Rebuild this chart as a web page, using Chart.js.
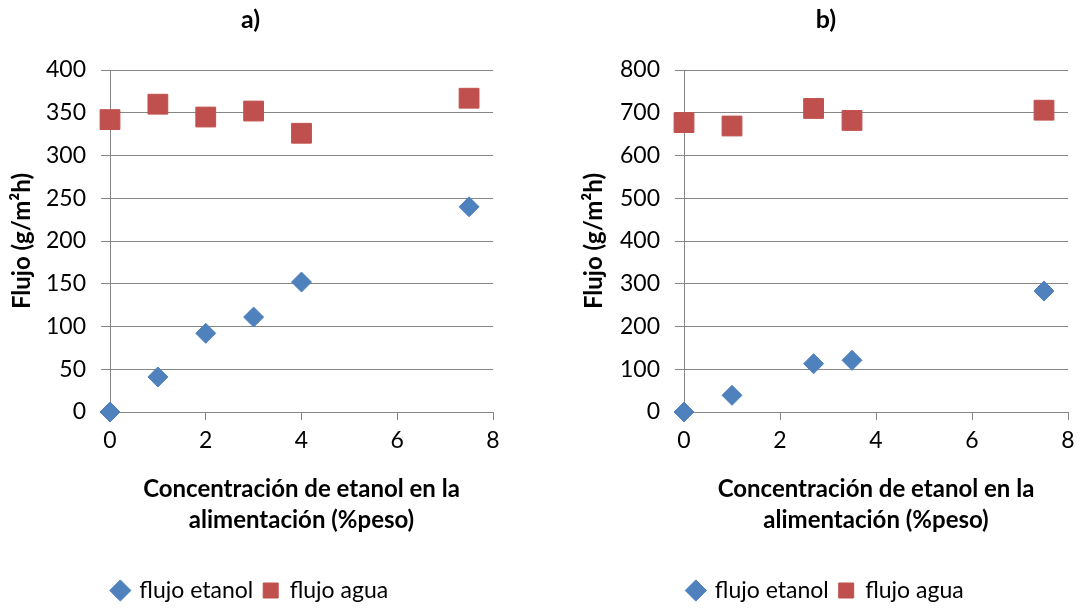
<!DOCTYPE html>
<html lang="es">
<head>
<meta charset="UTF-8">
<title>Flujo vs concentración de etanol</title>
<script src="https://cdn.jsdelivr.net/npm/chart.js"></script>
<style>
  html, body { margin: 0; padding: 0; background: #fff; overflow: hidden; }
  .panel { position: absolute; top: 0; height: 612px; }
</style>
</head>
<body>
<div class="panel" style="left:8px;width:533px"><canvas id="chartA" width="533" height="612"></canvas></div>
<div class="panel" style="left:580px;width:503px"><canvas id="chartB" width="503" height="612"></canvas></div>
<script>
// panel a)
const concA = [0, 1, 2, 3, 4, 7.5];
const etanolA = [0, 41, 92, 111, 152, 240];
const aguaA = [342, 360, 345, 352, 326, 367];

// panel b)
const concB = [0, 1, 2.7, 3.5, 7.5];
const etanolB = [0, 39, 113, 121, 283];
const aguaB = [677, 669, 710, 682, 706];

const xTicks = [0, 2, 4, 6, 8];
const seriesNames = ['flujo etanol', 'flujo agua'];

const FONT = 'Lato';
const GRID = '#868686';
Chart.defaults.font.family = FONT;
Chart.defaults.color = '#000';

function points(xs, ys) {
    return xs.map((x, i) => ({ x: x, y: ys[i] }));
}

function makeChart(id, title, conc, etanol, agua, yMax, yStep, yWidth, padRight) {
    new Chart(document.getElementById(id), {
        type: 'scatter',
        data: {
            datasets: [{
                label: seriesNames[0],
                data: points(conc, etanol),
                pointStyle: 'rectRot',
                pointRadius: 10,
                pointHoverRadius: 10,
                backgroundColor: '#4F81BD',
                borderColor: '#4F81BD',
                borderWidth: 1,
                clip: false
            }, {
                label: seriesNames[1],
                data: points(conc, agua),
                pointStyle: 'rect',
                pointRadius: 14,
                pointHoverRadius: 14,
                backgroundColor: '#C0504D',
                borderColor: '#C0504D',
                borderWidth: 1,
                clip: false
            }]
        },
        options: {
            responsive: false,
            animation: false,
            layout: { padding: { left: 0, right: padRight, top: 0, bottom: 0 } },
            plugins: {
                title: {
                    display: true,
                    text: title,
                    font: { size: 25, weight: 'bold' },
                    padding: { top: 5, bottom: 35 }
                },
                legend: {
                    position: 'bottom',
                    labels: {
                        usePointStyle: true,
                        boxWidth: 15,
                        boxHeight: 15,
                        padding: 10,
                        font: { size: 23 }
                    }
                },
                tooltip: { enabled: false }
            },
            scales: {
                x: {
                    type: 'linear',
                    min: xTicks[0],
                    max: xTicks[xTicks.length - 1],
                    afterFit: s => { s.height = 157; },
                    ticks: { stepSize: 2, padding: 7, font: { size: 23 } },
                    grid: { drawOnChartArea: false, tickLength: 8, color: GRID },
                    border: { color: GRID },
                    title: {
                        display: true,
                        text: ['Concentración de etanol en la', 'alimentación (%peso)'],
                        font: { size: 24, weight: 'bold', lineHeight: 1.3 },
                        padding: { top: 0, bottom: 33 }
                    }
                },
                y: {
                    min: 0,
                    max: yMax,
                    afterFit: s => { s.width = yWidth; },
                    ticks: { stepSize: yStep, padding: 15, font: { size: 23 } },
                    grid: { color: GRID, tickLength: 9 },
                    border: { color: GRID },
                    title: {
                        display: true,
                        text: 'Flujo (g/m²h)',
                        font: { size: 24, weight: 'bold' },
                        padding: { top: 0, bottom: 0 }
                    }
                }
            }
        }
    });
}

makeChart('chartA', 'a)', concA, etanolA, aguaA, 400, 50, 102, 48);
makeChart('chartB', 'b)', concB, etanolB, aguaB, 800, 100, 104, 11);
</script>
</body>
</html>
